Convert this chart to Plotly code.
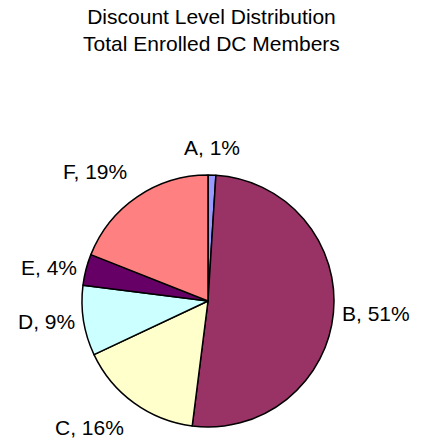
import math
import plotly.graph_objects as go

labels = ["A", "B", "C", "D", "E", "F"]
values = [1, 51, 16, 9, 4, 19]
colors = ["#9999FF", "#993366", "#FFFFCC", "#CCFFFF", "#660066", "#FF8080"]

W, H = 423, 446
cx, cy, r = 208, 301, 126
FONT = "Liberation Sans, Arial, sans-serif"

fig = go.Figure(go.Pie(
    labels=labels, values=values, sort=False, direction="clockwise", rotation=0,
    marker=dict(colors=colors, line=dict(color="black", width=1.5)),
    textinfo="none", showlegend=False, hoverinfo="label+percent",
    domain=dict(x=[(cx - r) / W, (cx + r) / W],
                y=[(H - cy - r) / H, (H - cy + r) / H]),
))

# data labels placed around the pie from the slice mid-angles
total = sum(values)
cum = 0
annotations = []
for lab, v in zip(labels, values):
    mid = (cum + v / 2) / total * 2 * math.pi
    cum += v
    s, c = math.sin(mid), math.cos(mid)
    xa = "left" if s > 0.2 else ("right" if s < -0.2 else "center")
    ya = "bottom" if c > 0.5 else ("top" if c < -0.5 else "middle")
    R = r + (7 if ya == "middle" else 14)
    px = cx + R * s
    py = cy - R * c
    annotations.append(dict(
        x=px / W, y=(H - py) / H, xref="paper", yref="paper",
        text=f"{lab}, {round(v / total * 100)}%", showarrow=False,
        xanchor=xa, yanchor=ya,
        font=dict(family=FONT, size=21, color="black"),
    ))

fig.update_layout(
    width=W, height=H, margin=dict(l=0, r=0, t=0, b=0),
    paper_bgcolor="white", plot_bgcolor="white",
    annotations=annotations,
    title=dict(text="Discount Level Distribution<br>Total Enrolled DC Members",
               x=0.5, xanchor="center", y=1 - 24 / H, yanchor="top",
               font=dict(family=FONT, size=21, color="black")),
)
fig.write_html("out.html", config={"displayModeBar": False},
               post_script="document.body.style.margin='0';document.body.style.overflow='hidden';")
